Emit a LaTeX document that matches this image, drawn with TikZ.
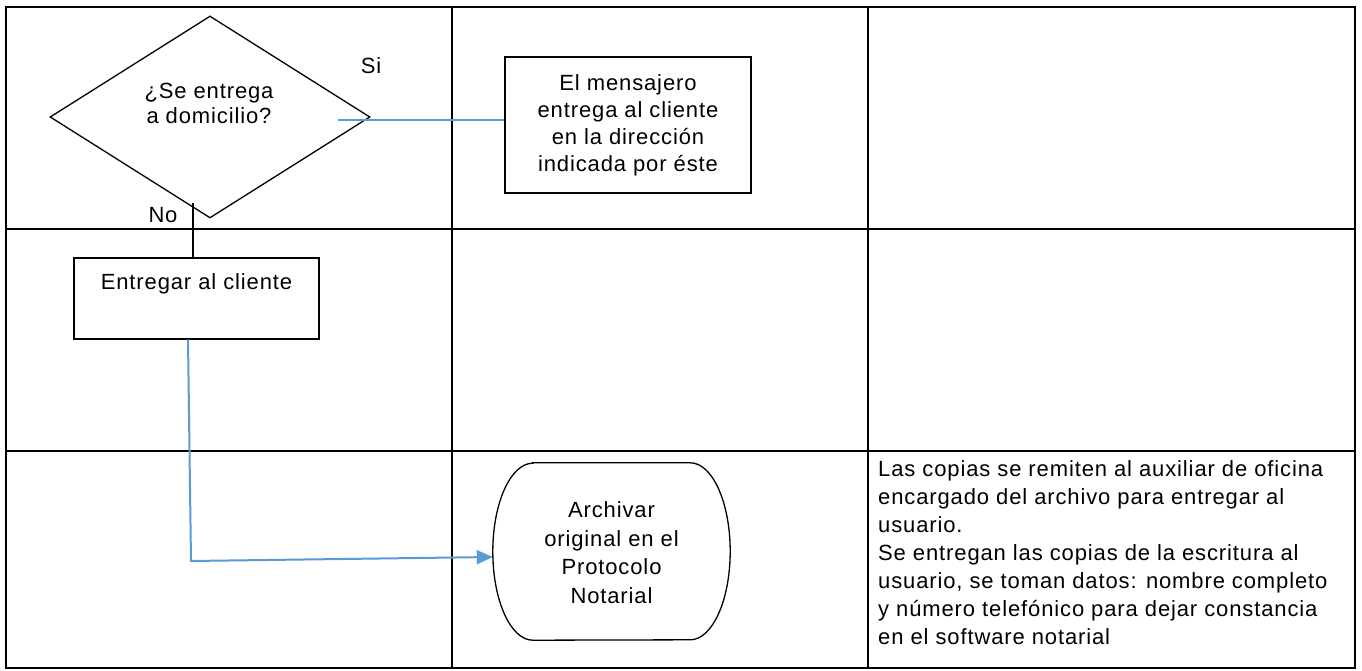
\documentclass[tikz,border=0pt]{standalone}
\usepackage{fontspec}
\setmainfont{Liberation Sans}[LetterSpace=4]
\usetikzlibrary{shapes.geometric,arrows.meta}
\definecolor{flowblue}{RGB}{91,155,213}
\begin{document}
\begin{tikzpicture}[x=1pt,y=-1pt,
  txt/.style={font=\fontsize{22pt}{27pt}\selectfont, inner sep=0pt, text=black},
  gridline/.style={line width=1.6pt, black},
  procbox/.style={draw, line width=1.5pt, inner sep=0pt, font=\fontsize{22pt}{27pt}\selectfont, text=black},
  decision/.style={draw, diamond, line width=1.3pt, inner sep=0pt, minimum width=320pt, minimum height=202pt},
  termline/.style={draw, line width=1.3pt},
  flow/.style={draw=flowblue, line width=2pt},
  blk/.style={draw=black, line width=1.6pt},
]
\useasboundingbox (0,0) rectangle (1362,671);
\fill[white] (0,0) rectangle (1362,671);
% table
\draw[gridline] (6,7) rectangle (1355,668);
\draw[gridline] (452,7) -- (452,668);
\draw[gridline] (868,7) -- (868,668);
\draw[gridline] (6,229) -- (1355,229);
\draw[gridline] (6,451) -- (1355,451);
% decision
\node[decision] (dec) at (210,117) {};
\node[txt, align=center, font=\fontsize{22pt}{25pt}\selectfont] (dectxt) at (209,103) {¿Se entrega\\a domicilio?};
\node[txt] (si) at (371,66) {Si};
\node[txt] (no) at (163,215) {No};
% process boxes
\node[procbox, minimum width=246pt, minimum height=136pt, align=center] (msg) at (628,125) {El mensajero\\entrega al cliente\\en la dirección\\indicada por éste};
\node[procbox, anchor=north, minimum width=245pt, text height=32pt, text depth=49pt] (ent) at (196.5,257) {Entregar al cliente};
% terminator
\node[txt, align=center, minimum width=237pt, minimum height=177pt, text height=140pt, text depth=37pt, font=\fontsize{22pt}{28.5pt}\selectfont] (arch) at (611.5,551.5) {Archivar\\original en el\\Protocolo\\Notarial};
\draw[termline] ([xshift=40pt]arch.north west) -- ([xshift=-40pt]arch.north east)
  arc[start angle=90, end angle=-90, x radius=40pt, y radius=88.5pt]
  -- ([xshift=40pt]arch.south west)
  arc[start angle=270, end angle=90, x radius=40pt, y radius=88.5pt] -- cycle;
% note
\node[txt, align=left, anchor=north west, font=\fontsize{22pt}{28pt}\selectfont] (note) at (878,460) {Las copias se remiten al auxiliar de oficina\\encargado del archivo para entregar al\\usuario.\\Se entregan las copias de la escritura al\\usuario, se toman datos: nombre completo\\y número telefónico para dejar constancia\\en el software notarial};
% connectors
\coordinate (siStart) at (338,120);
\draw[flow] (siStart) -- (siStart -| msg.west);
\coordinate (noTop) at (193,203);
\draw[blk] (noTop) -- (noTop |- ent.north);
\coordinate (downX) at (188,0);
\coordinate (bend) at (191,561);
\coordinate (arrY) at (0,557);
\draw[flow, -{Triangle[length=16pt,width=14pt]}] (ent.south -| downX) -- (bend) -- (arch.west |- arrY);
\end{tikzpicture}
\end{document}
